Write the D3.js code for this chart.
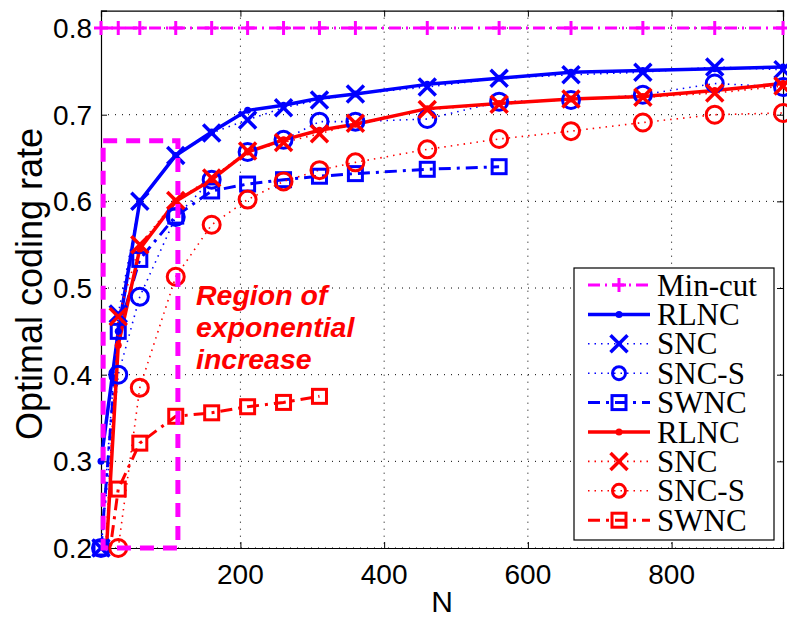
<!DOCTYPE html>
<html>
<head>
<meta charset="utf-8">
<script src="https://cdnjs.cloudflare.com/ajax/libs/d3/7.8.5/d3.min.js"></script>
<style>
    body { margin: 0; background: #fff; }
    .tick_label { font-family: "Liberation Sans", Arial, sans-serif; font-size: 28px; fill: #000; }
    .axis_label { font-family: "Liberation Sans", Arial, sans-serif; fill: #000; }
    .legend_text { font-family: "Liberation Serif", "Times New Roman", serif; font-size: 31px; fill: #000; }
    .note { font-family: "Liberation Sans", Arial, sans-serif; font-size: 28.5px; font-weight: bold; font-style: italic; fill: #ff0000; }
</style>
</head>
<body>
<div class="chart"></div>
<script>
"use strict";  // Code that enforces modern javascript

// ----------------------------------------
//  Data
// ----------------------------------------
let n_values = [6, 30, 60, 110, 160, 210, 260, 310, 360, 460, 560, 660, 760, 860, 955];

let min_cut = [0.8, 0.8, 0.8, 0.8, 0.8, 0.8, 0.8, 0.8, 0.8, 0.8, 0.8, 0.8, 0.8, 0.8, 0.8];

let blue_rlnc = [0.30, 0.45, 0.600, 0.653, 0.680, 0.705, 0.711, 0.719, 0.724, 0.735, 0.742, 0.749, 0.751, 0.753, 0.755];
let blue_snc  = [0.20, 0.47, 0.600, 0.653, 0.679, 0.694, 0.708, 0.717, 0.724, 0.732, 0.742, 0.746, 0.749, 0.755, 0.752];
let blue_sncs = [0.20, 0.40, 0.490, 0.582, 0.625, 0.657, 0.671, 0.692, 0.692, 0.695, 0.715, 0.717, 0.723, 0.736, 0.732];
let blue_swnc = [0.20, 0.45, 0.533, 0.583, 0.612, 0.620, 0.625, 0.629, 0.632, 0.637, 0.640];

let red_rlnc = [0.09, 0.434, 0.545, 0.600, 0.625, 0.657, 0.671, 0.682, 0.689, 0.707, 0.713, 0.718, 0.721, 0.728, 0.736];
let red_snc  = [0.10, 0.467, 0.550, 0.601, 0.627, 0.658, 0.668, 0.678, 0.690, 0.706, 0.712, 0.718, 0.720, 0.725, 0.733];
let red_sncs = [0.05, 0.200, 0.385, 0.513, 0.573, 0.602, 0.623, 0.636, 0.645, 0.660, 0.672, 0.681, 0.691, 0.700, 0.702];
let red_swnc = [0.12, 0.268, 0.321, 0.352, 0.356, 0.363, 0.368, 0.375];

let x_ticks = [200, 400, 600, 800];
let y_ticks = [0.2, 0.3, 0.4, 0.5, 0.6, 0.7, 0.8];

// dashed box of the "region of exponential increase"
let region_n = [9, 113];
let region_rate = [0.2, 0.67];
let region_lines = ["Region of", "exponential", "increase"];

(function(){

    // Plot Appearance Settings
    let full_width = 787;
    let full_height = 619;
    let plot = {left: 101, right: 783, top: 10.7, bottom: 548};

    let magenta = "#ff00ff";
    let blue = "#0000ff";
    let red = "#ff0000";

    let series = [
        {name: "Min-cut", values: min_cut,   color: magenta, dash: "12,5,2,5", width: 3,   marker: "plus"},
        {name: "RLNC",    values: blue_rlnc, color: blue,    dash: null,       width: 3.5, marker: "dot"},
        {name: "SNC",     values: blue_snc,  color: blue,    dash: "1.5,5",    width: 1.6, marker: "x"},
        {name: "SNC-S",   values: blue_sncs, color: blue,    dash: "1.5,5",    width: 1.6, marker: "circle"},
        {name: "SWNC",    values: blue_swnc, color: blue,    dash: "12,6,3,6", width: 3,   marker: "square"},
        {name: "RLNC",    values: red_rlnc,  color: red,     dash: null,       width: 3.5, marker: "dot"},
        {name: "SNC",     values: red_snc,   color: red,     dash: "1.5,5",    width: 1.6, marker: "x"},
        {name: "SNC-S",   values: red_sncs,  color: red,     dash: "1.5,5",    width: 1.6, marker: "circle"},
        {name: "SWNC",    values: red_swnc,  color: red,     dash: "12,6,3,6", width: 3,   marker: "square"}
    ];

    let svg = d3.select(".chart")
        .append("svg")
        .attr("width", full_width)
        .attr("height", full_height);

    let x_scale = d3.scaleLinear()
        .domain([6, 955])
        .range([plot.left, plot.right]);

    let y_scale = d3.scaleLinear()
        .domain([0.2, 0.82])
        .range([plot.bottom, plot.top]); // reversed because high is down in svg

    svg.append("clipPath")
        .attr("id", "plot_clip")
        .append("rect")
        .attr("x", plot.left)
        .attr("y", plot.top)
        .attr("width", plot.right - plot.left)
        .attr("height", plot.bottom - plot.top);

    // ----------------------------------------
    //  Grid (dotted, like matlab grid on)
    // ----------------------------------------
    let grid = svg.append("g").attr("class", "grid");

    grid.selectAll(".vgrid")
        .data(x_ticks)
        .enter()
        .append("line")
        .attr("x1", function(d) { return x_scale(d); })
        .attr("x2", function(d) { return x_scale(d); })
        .attr("y1", plot.top)
        .attr("y2", plot.bottom)
        .attr("stroke", "#000")
        .attr("stroke-width", 1)
        .attr("stroke-dasharray", "1,6");

    grid.selectAll(".hgrid")
        .data(y_ticks)
        .enter()
        .append("line")
        .attr("x1", plot.left)
        .attr("x2", plot.right)
        .attr("y1", function(d) { return y_scale(d); })
        .attr("y2", function(d) { return y_scale(d); })
        .attr("stroke", "#000")
        .attr("stroke-width", 1)
        .attr("stroke-dasharray", "1,6");

    // ----------------------------------------
    //  Axes (inward ticks on all four sides)
    // ----------------------------------------
    let tick_len = 6;

    svg.append("g")
        .attr("transform", "translate(0," + plot.bottom + ")")
        .call(d3.axisBottom(x_scale).tickValues(x_ticks).tickSize(-tick_len).tickFormat(""));
    svg.append("g")
        .attr("transform", "translate(0," + plot.top + ")")
        .call(d3.axisTop(x_scale).tickValues(x_ticks).tickSize(-tick_len).tickFormat(""));
    svg.append("g")
        .attr("transform", "translate(" + plot.left + ",0)")
        .call(d3.axisLeft(y_scale).tickValues(y_ticks).tickSize(-tick_len).tickFormat(""));
    svg.append("g")
        .attr("transform", "translate(" + plot.right + ",0)")
        .call(d3.axisRight(y_scale).tickValues(y_ticks).tickSize(-tick_len).tickFormat(""));

    svg.selectAll(".domain").attr("stroke", "#000").attr("stroke-width", 1.2);
    svg.selectAll(".tick line").attr("stroke", "#000").attr("stroke-width", 1);

    // tick labels
    svg.selectAll(".x_tick_label")
        .data(x_ticks)
        .enter()
        .append("text")
        .attr("class", "tick_label")
        .attr("x", function(d) { return x_scale(d); })
        .attr("y", 584)
        .attr("text-anchor", "middle")
        .text(function(d) { return d; });

    svg.selectAll(".y_tick_label")
        .data(y_ticks)
        .enter()
        .append("text")
        .attr("class", "tick_label")
        .attr("x", 92)
        .attr("y", function(d) { return y_scale(d) + 10; })
        .attr("text-anchor", "end")
        .text(function(d) { return d3.format(".1f")(d); });

    //x axis text
    svg.append("text")
        .attr("class", "axis_label")
        .attr("x", 442)
        .attr("y", 612)
        .attr("text-anchor", "middle")
        .style("font-size", "30px")
        .text("N");

    //y axis text
    svg.append("text")
        .attr("class", "axis_label")
        .attr("transform", "translate(42," + 284 + ") rotate(-90)")
        .attr("text-anchor", "middle")
        .style("font-size", "36px")
        .text("Optimal coding rate");

    // ----------------------------------------
    //  Markers
    // ----------------------------------------
    function draw_marker(g, kind, cx, cy, color, s) {
        if (kind === "plus") {
            g.append("path")
                .attr("d", "M" + (cx - s) + "," + cy + "H" + (cx + s) + "M" + cx + "," + (cy - s) + "V" + (cy + s))
                .attr("stroke", color).attr("stroke-width", 3).attr("fill", "none");
        } else if (kind === "x") {
            g.append("path")
                .attr("d", "M" + (cx - s) + "," + (cy - s) + "L" + (cx + s) + "," + (cy + s) +
                           "M" + (cx - s) + "," + (cy + s) + "L" + (cx + s) + "," + (cy - s))
                .attr("stroke", color).attr("stroke-width", 3.5).attr("fill", "none");
        } else if (kind === "circle") {
            g.append("circle")
                .attr("cx", cx).attr("cy", cy).attr("r", s)
                .attr("stroke", color).attr("stroke-width", 3).attr("fill", "none");
        } else if (kind === "square") {
            g.append("rect")
                .attr("x", cx - s).attr("y", cy - s).attr("width", 2 * s).attr("height", 2 * s)
                .attr("stroke", color).attr("stroke-width", 3).attr("fill", "none");
        } else if (kind === "dot") {
            g.append("circle")
                .attr("cx", cx).attr("cy", cy).attr("r", 3.5)
                .attr("fill", color);
        }
    }

    let marker_size = {plus: 7, x: 8.5, circle: 8.5, square: 7, dot: 3.5};

    // ----------------------------------------
    //  Binding the Data
    // ----------------------------------------
    let line = d3.line()
        .x(function(d) { return x_scale(d.n); })
        .y(function(d) { return y_scale(d.v); });

    let lines_g = svg.append("g").attr("clip-path", "url(#plot_clip)");
    let marks_g = svg.append("g");

    series.forEach(function(s) {
        let pts = s.values.map(function(v, i) { return {n: n_values[i], v: v}; });

        let path = lines_g.append("path")
            .datum(pts)
            .attr("d", line)
            .attr("fill", "none")
            .attr("stroke", s.color)
            .attr("stroke-width", s.width)
            .attr("stroke-linejoin", "round");
        if (s.dash) { path.attr("stroke-dasharray", s.dash); }

        pts.forEach(function(p) {
            if (p.v < 0.199) { return; } // matlab drops markers outside the axes
            draw_marker(marks_g, s.marker, x_scale(p.n), y_scale(p.v), s.color, marker_size[s.marker]);
        });
    });

    // region of exponential increase
    svg.append("rect")
        .attr("x", x_scale(region_n[0]))
        .attr("y", y_scale(region_rate[1]))
        .attr("width", x_scale(region_n[1]) - x_scale(region_n[0]))
        .attr("height", y_scale(region_rate[0]) - y_scale(region_rate[1]))
        .attr("fill", "none")
        .attr("stroke", magenta)
        .attr("stroke-width", 5)
        .attr("stroke-dasharray", "14,9");

    svg.selectAll(".note")
        .data(region_lines)
        .enter()
        .append("text")
        .attr("class", "note")
        .attr("x", 196)
        .attr("y", function(d, i) { return 305 + i * 32; })
        .text(function(d) { return d; });

    // ----------------------------------------
    //  Legend
    // ----------------------------------------
    let legend = svg.append("g").attr("class", "legend");

    legend.append("rect")
        .attr("x", 574)
        .attr("y", 268)
        .attr("width", 200)
        .attr("height", 272)
        .attr("fill", "#fff")
        .attr("stroke", "#000")
        .attr("stroke-width", 1.2);

    let legend_size = {plus: 7, x: 8.5, circle: 6.5, square: 7, dot: 3.5};

    series.forEach(function(s, i) {
        let cy = 285 + i * 29.4;
        let l = legend.append("line")
            .attr("x1", 588).attr("x2", 650)
            .attr("y1", cy).attr("y2", cy)
            .attr("stroke", s.color)
            .attr("stroke-width", s.width);
        if (s.dash) { l.attr("stroke-dasharray", s.dash); }
        draw_marker(legend, s.marker, 619, cy, s.color, legend_size[s.marker]);

        legend.append("text")
            .attr("class", "legend_text")
            .attr("x", 657)
            .attr("y", cy + 10.5)
            .text(s.name);
    });

})();
</script>
</body>
</html>
